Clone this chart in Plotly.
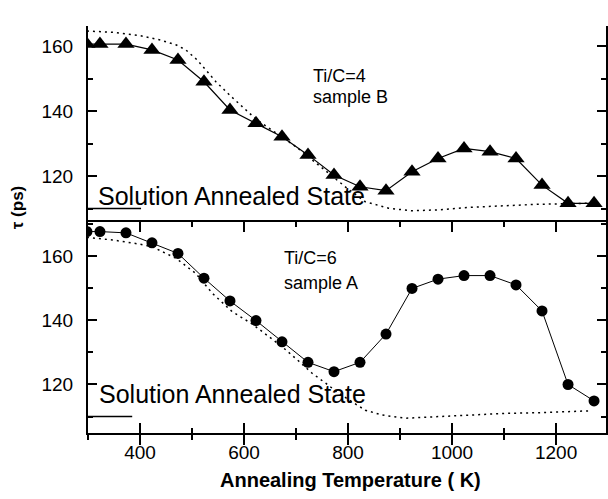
import plotly.graph_objects as go

# ---------------- data ----------------
temps = [298, 323, 373, 423, 473, 523, 573, 623, 673, 723, 773,
         823, 873, 923, 973, 1023, 1073, 1123, 1173, 1223, 1273]

tau_B = [160.6, 160.6, 160.6, 158.8, 155.7, 149.0, 140.3, 136.2, 132.1, 126.5, 120.3,
         116.7, 115.5, 121.3, 125.4, 128.5, 127.5, 125.4, 117.2, 111.6, 111.6]

tau_A = [167.6, 167.6, 167.2, 164.1, 160.8, 153.1, 146.0, 139.9, 133.3, 126.9, 124.0,
         126.9, 135.7, 149.9, 152.8, 153.9, 153.9, 151.0, 142.9, 120.0, 114.9]

fit_B_T = [298, 350, 400, 440, 470, 488, 510, 546, 575, 603, 623, 650, 673, 700, 723,
           750, 773, 800, 833, 878, 922, 974, 1037, 1101, 1165, 1230, 1273]
fit_B = [164.6, 164.2, 163.2, 161.8, 160.3, 158.8, 155.7, 149.0, 144.5, 140.3, 137.5,
         134.5, 132.0, 129.0, 126.0, 122.5, 119.5, 116.0, 112.1, 110.1, 109.3, 109.6,
         110.4, 110.9, 111.3, 111.5, 111.7]

fit_A_T = [298, 347, 399, 423, 469, 507, 539, 577, 616, 641, 673, 705, 731, 757, 782,
           833, 865, 910, 974, 1037, 1101, 1165, 1229, 1264]
fit_A = [165.8, 165.0, 163.7, 162.9, 159.3, 154.6, 148.4, 142.7, 138.8, 135.8, 131.8,
         127.3, 123.5, 120.4, 117.3, 112.0, 110.5, 109.5, 110.0, 110.5, 111.0, 111.2,
         111.5, 111.8]

sas_B_T = [298, 402]
sas_A_T = [298, 385]
sas_level = [110, 110]

x_ticks = [400, 600, 800, 1000, 1200]
y_ticks = [120, 140, 160]

x_range = [300, 1296]
yB_range = [105.85, 166.15]
yA_range = [104.9, 170.58]

FONT = "Arial, Liberation Sans, sans-serif"
split = 0.5184

fig = go.Figure()

# top panel (sample B)
fig.add_trace(go.Scatter(x=fit_B_T, y=fit_B, mode="lines", xaxis="x", yaxis="y",
                         line=dict(color="black", width=1.5, dash="2px,4px"), showlegend=False))
fig.add_trace(go.Scatter(x=temps, y=tau_B, mode="lines+markers", xaxis="x", yaxis="y",
                         line=dict(color="black", width=1.2),
                         marker=dict(symbol="triangle-up", size=15, color="black"),
                         showlegend=False))
fig.add_trace(go.Scatter(x=sas_B_T, y=sas_level, mode="lines", xaxis="x", yaxis="y",
                         line=dict(color="black", width=1.5), showlegend=False))

# bottom panel (sample A)
fig.add_trace(go.Scatter(x=fit_A_T, y=fit_A, mode="lines", xaxis="x3", yaxis="y2",
                         line=dict(color="black", width=1.5, dash="2px,4px"), showlegend=False))
fig.add_trace(go.Scatter(x=temps, y=tau_A, mode="lines+markers", xaxis="x2", yaxis="y2",
                         line=dict(color="black", width=1),
                         marker=dict(symbol="circle", size=11, color="black"),
                         showlegend=False))
fig.add_trace(go.Scatter(x=sas_A_T, y=sas_level, mode="lines", xaxis="x2", yaxis="y2",
                         line=dict(color="black", width=1.5), showlegend=False))

tickfont = dict(family=FONT, size=19, color="black")

yax_common = dict(tickmode="array", tickvals=y_ticks, ticks="inside", ticklen=9, tickwidth=1.5,
                  tickcolor="black", showline=True, linecolor="black", linewidth=2,
                  mirror="ticks", showgrid=False, zeroline=False, tickfont=tickfont,
                  ticklabelstandoff=9,
                  minor=dict(dtick=10, tick0=0, ticks="inside", ticklen=5, tickwidth=1.5,
                             tickcolor="black", showgrid=False))

xax_common = dict(range=x_range, tickmode="array", tickvals=x_ticks, showgrid=False,
                  zeroline=False, tickfont=tickfont)

fig.update_layout(
    width=608, height=499,
    margin=dict(l=88, r=0, t=26, b=66),
    paper_bgcolor="white", plot_bgcolor="rgba(0,0,0,0)",
    xaxis=dict(**xax_common, anchor="y", showline=False, ticks="", showticklabels=False),
    yaxis=dict(**yax_common, domain=[split, 1], anchor="x", range=yB_range),
    xaxis2=dict(**xax_common, anchor="y2", showline=True, linecolor="black", linewidth=2,
                mirror=True, ticks="outside", ticklen=10, tickwidth=1.5, tickcolor="black",
                ticklabelstandoff=-9,
                minor=dict(dtick=100, tick0=0, ticks="outside", ticklen=5, tickwidth=1.5,
                           tickcolor="black", showgrid=False)),
    xaxis3=dict(**xax_common, anchor="y2", overlaying="x2", side="bottom", showline=False,
                mirror="ticks", ticks="inside", ticklen=10, tickwidth=1.5, tickcolor="black",
                showticklabels=False,
                minor=dict(dtick=100, tick0=0, ticks="inside", ticklen=5, tickwidth=1.5,
                           tickcolor="black", showgrid=False)),
    yaxis2=dict(**yax_common, domain=[0, split], anchor="x2", range=yA_range),
)

txt = dict(family=FONT, color="black")
annots = [
    dict(x=728, y=150.8, xref="x", yref="y", text="Ti/C=4", xanchor="left", yanchor="middle",
         showarrow=False, font=dict(**txt, size=18)),
    dict(x=728, y=144.3, xref="x", yref="y", text="sample B", xanchor="left", yanchor="middle",
         showarrow=False, font=dict(**txt, size=18)),
    dict(x=673, y=159.4, xref="x2", yref="y2", text="Ti/C=6", xanchor="left", yanchor="middle",
         showarrow=False, font=dict(**txt, size=18)),
    dict(x=673, y=151.6, xref="x2", yref="y2", text="sample A", xanchor="left", yanchor="middle",
         showarrow=False, font=dict(**txt, size=18)),
    dict(x=316, y=113.8, xref="x", yref="y", text="Solution Annealed State", xanchor="left",
         yanchor="middle", showarrow=False, font=dict(**txt, size=25)),
    dict(x=317, y=117.0, xref="x2", yref="y2", text="Solution Annealed State", xanchor="left",
         yanchor="middle", showarrow=False, font=dict(**txt, size=25)),
    dict(x=0.507, y=-0.1155, xref="paper", yref="paper", text="<b>Annealing Temperature ( K)</b>",
         xanchor="center", yanchor="middle", showarrow=False, font=dict(**txt, size=20)),
    dict(x=-0.1346, y=0.553, xref="paper", yref="paper", text="<b>τ (ps)</b>", textangle=-90,
         xanchor="center", yanchor="middle", showarrow=False, font=dict(**txt, size=17)),
]
fig.update_layout(annotations=annots)

fig.write_html("out.html", config={"displayModeBar": False},
               post_script="document.body.style.margin='0';")
